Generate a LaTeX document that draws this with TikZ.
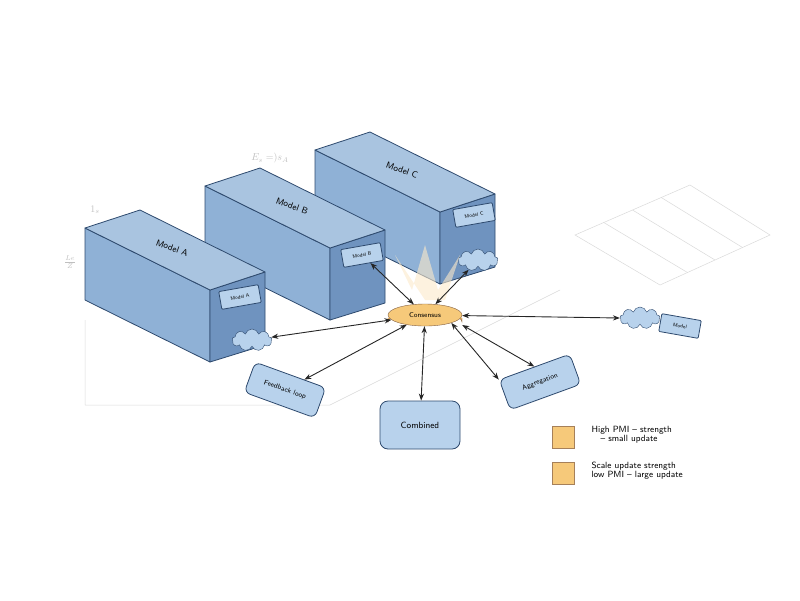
\documentclass[tikz,border=0pt]{standalone}
\usetikzlibrary{shapes,arrows.meta,calc}
\usepackage{xcolor}
\definecolor{boxtop}{HTML}{A9C4E0}
\definecolor{boxfront}{HTML}{8FB1D6}
\definecolor{boxside}{HTML}{6F93BF}
\definecolor{edgeblue}{HTML}{2E4A6E}
\definecolor{tagblue}{HTML}{B8D2EC}
\definecolor{orng}{HTML}{F6C97A}
\tikzset{
    face/.style={draw=edgeblue,line width=0.8pt,line join=round},
    tag/.style={draw=edgeblue,fill=tagblue,line width=0.8pt,font=\sffamily\tiny,
        minimum width=40pt,minimum height=18pt,rounded corners=1pt},
    puff/.style={shape=cloud,cloud puffs=9,draw=edgeblue,fill=tagblue,aspect=1.8,
        minimum width=40pt,minimum height=22pt},
    link/.style={{Stealth[length=7pt]}-{Stealth[length=7pt]},line width=0.9pt,black!85},
    grid/.style={gray!30,line width=0.5pt}
}
\begin{document}
\begin{tikzpicture}[x=1pt,y=-1pt]
    \useasboundingbox (0,0) rectangle (800,600);
    % faint background
    \draw[grid] (85,405) -- (85,320) (85,405) -- (330,405) (330,405) -- (560,290);
    \draw[grid] (575,235) -- (690,185) -- (770,235) -- (660,285) -- cycle;
    \foreach \t in {0.25,0.5,0.75}{
        \draw[grid] ($(575,235)!\t!(690,185)$) -- ($(660,285)!\t!(770,235)$);
    }
    \node[gray!50,font=\itshape] (fa) at (270,158) {$E_s = )s_A$};
    \node[gray!50,font=\itshape] (fb) at (95,210) {$1_s$};
    \node[gray!50,font=\itshape] (fc) at (70,262) {$\frac{Le}{Z}$};
    % boxes
    \foreach \dx/\dy/\name in {230/-78/C,120/-42/B,0/0/A}{
        \begin{scope}[shift={(\dx,\dy)}]
            \draw[face,fill=boxfront] (85,228) -- (210,290) -- (210,362) -- (85,300) -- cycle;
            \draw[face,fill=boxside] (210,290) -- (265,272) -- (265,345) -- (210,362) -- cycle;
            \draw[face,fill=boxtop] (85,228) -- (140,210) -- (265,272) -- (210,290) -- cycle;
            \node[font=\sffamily\small,rotate=-20] (top\name) at (172,248) {Model \name};
        \end{scope}
    }
    % tags and clouds
    \node[tag,rotate=10] (tagA) at (240,297) {Model A};
    \node[tag,rotate=10] (tagB) at (362,255) {Model B};
    \node[tag,rotate=10] (tagC) at (474,215) {Model C};
    \node[puff] (cloudA) at (252,340) {};
    \node[puff] (cloudC) at (478,260) {};
    \node[puff] (cloudM) at (640,318) {};
    \node[tag,rotate=-10] (tagM) at (680,326) {Model};
    % consensus
    \fill[orng!40,opacity=0.6] (425,300) -- (395,255) -- (412,290) -- (425,245) -- (438,290) -- (460,255) -- (445,300) -- cycle;
    \draw[edgeblue!60!orange,fill=orng!80!orange] (388,318) -- (388,322) arc[start angle=180,end angle=360,x radius=37,y radius=11] -- (462,318);
    \node[ellipse,draw=edgeblue!60!orange,fill=orng,minimum width=74pt,minimum height=22pt,
        font=\sffamily\scriptsize] (cons) at (425,315) {Consensus};
    % outer nodes
    \node[tag,rounded corners=6pt,minimum width=75pt,minimum height=32pt,font=\sffamily\scriptsize,rotate=-20] (loop) at (285,390) {Feedback loop};
    \node[tag,rounded corners=8pt,minimum width=80pt,minimum height=48pt,font=\sffamily\small] (comb) at (420,425) {Combined};
    \node[tag,rounded corners=6pt,minimum width=75pt,minimum height=32pt,font=\sffamily\scriptsize,rotate=20] (aggr) at (540,382) {Aggregation};
    % connectors
    \draw[link] (cons) -- (cloudA);
    \draw[link] (cons) -- (loop);
    \draw[link] (cons) -- (comb);
    \draw[link] (cons.south east) -- (aggr.north west);
    \draw[link] (cons.east) ++(0,10) coordinate (ce) (ce) -- (aggr.north);
    \draw[link] (cons) -- (cloudM.west);
    \draw[link] (cons) -- (tagB);
    \draw[link] (cons) -- (cloudC);
    % legend
    \node[draw=gray!70!orange,fill=orng,minimum size=22pt] (lg1) at (563,437) {};
    \node[draw=gray!70!orange,fill=orng,minimum size=22pt] (lg2) at (563,473) {};
    \node[font=\sffamily\small,align=left,anchor=west] (lt1) at (588,435) {High PMI -- strength\\[-2pt]\quad -- small update};
    \node[font=\sffamily\small,align=left,anchor=west] (lt2) at (588,471) {Scale update strength\\[-2pt]low PMI -- large update};
\end{tikzpicture}
\end{document}
